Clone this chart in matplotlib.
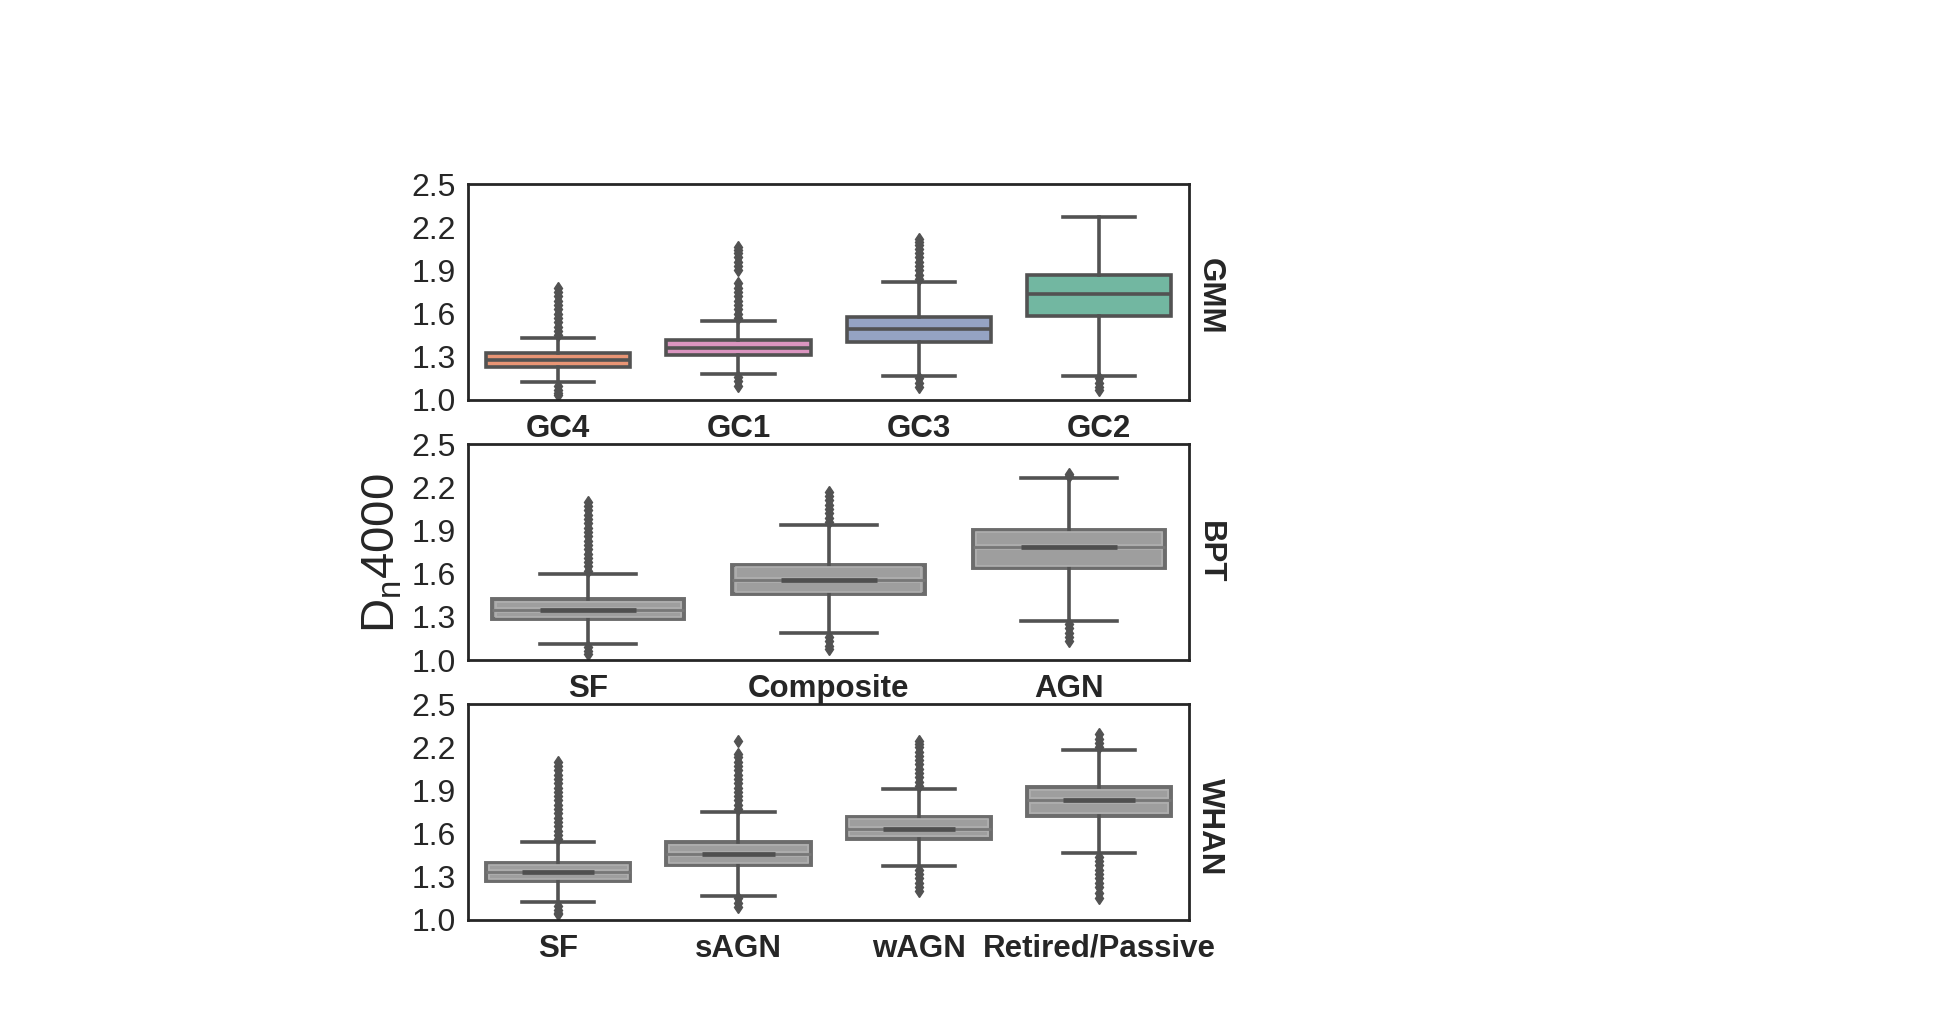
import matplotlib
matplotlib.use("Agg")
import matplotlib.pyplot as plt

plt.rcParams['font.family'] = ['Liberation Sans', 'DejaVu Sans']
plt.rcParams['mathtext.fontset'] = 'custom'
plt.rcParams['mathtext.rm'] = 'Liberation Sans'

# ---------------------------------------------------------------------------
# Values (Dn4000 box statistics per class)
# ---------------------------------------------------------------------------
gmm_labels = ["GC4", "GC1", "GC3", "GC2"]
gmm_med = [1.278, 1.363, 1.493, 1.734]
gmm_q1 = [1.227, 1.310, 1.405, 1.583]
gmm_q3 = [1.324, 1.417, 1.579, 1.868]
gmm_lo = [1.125, 1.178, 1.167, 1.169]
gmm_hi = [1.428, 1.551, 1.819, 2.273]
gmm_fliers = [
    [1.45, 1.48, 1.51, 1.54, 1.57, 1.60, 1.63, 1.66, 1.69, 1.72, 1.75, 1.775,
     1.10, 1.07, 1.05, 1.035],
    [1.57, 1.60, 1.63, 1.66, 1.69, 1.72, 1.75, 1.78, 1.81, 1.90, 1.93, 1.96,
     1.99, 2.02, 2.04, 2.06, 1.16, 1.13, 1.10],
    [1.84, 1.87, 1.90, 1.93, 1.96, 1.99, 2.02, 2.05, 2.08, 2.10, 2.12,
     1.15, 1.12, 1.09],
    [1.15, 1.12, 1.09, 1.07],
]
gmm_colors = ["#e99575", "#db95c0", "#95a3c3", "#72b7a1"]

bpt_labels = ["SF", "Composite", "AGN"]
bpt_med = [1.347, 1.558, 1.787]
bpt_q1 = [1.282, 1.458, 1.639]
bpt_q3 = [1.421, 1.660, 1.903]
bpt_lo = [1.109, 1.185, 1.273]
bpt_hi = [1.597, 1.935, 2.262]
bpt_fliers = [
    [1.62, 1.65, 1.68, 1.71, 1.74, 1.77, 1.80, 1.83, 1.86, 1.89, 1.92, 1.95,
     1.98, 2.01, 2.04, 2.07, 2.10, 1.09, 1.06, 1.04],
    [1.96, 1.99, 2.02, 2.05, 2.08, 2.11, 2.14, 2.17, 1.16, 1.13, 1.10, 1.08],
    [2.28, 2.29, 1.25, 1.22, 1.19, 1.16, 1.13],
]

whan_labels = ["SF", "sAGN", "wAGN", "Retired/Passive"]
whan_med = [1.331, 1.458, 1.632, 1.831]
whan_q1 = [1.271, 1.380, 1.565, 1.725]
whan_q3 = [1.394, 1.539, 1.713, 1.921]
whan_lo = [1.123, 1.169, 1.375, 1.463]
whan_hi = [1.542, 1.750, 1.907, 2.181]
whan_fliers = [
    [1.56, 1.59, 1.62, 1.65, 1.68, 1.71, 1.74, 1.77, 1.80, 1.83, 1.86, 1.89,
     1.92, 1.95, 1.98, 2.01, 2.04, 2.07, 2.10, 1.10, 1.07, 1.05, 1.04],
    [1.77, 1.80, 1.83, 1.86, 1.89, 1.92, 1.95, 1.98, 2.01, 2.04, 2.07, 2.10,
     2.13, 2.15, 2.24, 1.15, 1.12, 1.09],
    [1.93, 1.96, 1.99, 2.02, 2.05, 2.08, 2.11, 2.14, 2.17, 2.20, 2.22, 2.24,
     1.35, 1.32, 1.29, 1.26, 1.23, 1.20],
    [2.20, 2.23, 2.26, 2.29, 1.44, 1.41, 1.38, 1.35, 1.32, 1.29, 1.26, 1.23,
     1.19, 1.15],
]

yticks = [1.0, 1.3, 1.6, 1.9, 2.2, 2.5]

TEXT = "#262626"
EDGE = "#525252"
LW = 2.6


def make_stats(labels, med, q1, q3, lo, hi, fliers):
    return [dict(label=l, med=m, q1=a, q3=b, whislo=w0, whishi=w1, fliers=f)
            for l, m, a, b, w0, w1, f in zip(labels, med, q1, q3, lo, hi, fliers)]


def draw_panel(ax, stats, name, name_y, colors=None):
    pos = list(range(len(stats)))
    grey = colors is None
    box_edge = "#6c6c6c" if grey else EDGE
    res = ax.bxp(stats, positions=pos, widths=0.8, capwidths=0.4,
                 patch_artist=True, showfliers=True,
                 boxprops=dict(edgecolor=box_edge, linewidth=2.8 if grey else LW),
                 whiskerprops=dict(color=EDGE, linewidth=LW),
                 capprops=dict(color=EDGE, linewidth=LW),
                 medianprops=dict(color="#777777" if grey else box_edge,
                                  linewidth=2.0 if grey else LW),
                 flierprops=dict(marker="d", markersize=6, linestyle="none",
                                 markerfacecolor=EDGE, markeredgecolor=EDGE))
    for i, b in enumerate(res["boxes"]):
        b.set_facecolor("#9e9e9e" if grey else colors[i])

    if grey:
        # lighter inner outlines above and below the median
        d = 0.015
        inner = []
        for s in stats:
            inner.append(dict(med=s["q1"] + d, q1=s["q1"] + d, q3=s["med"] - d,
                              whislo=s["q1"] + d, whishi=s["med"] - d, fliers=[]))
            inner.append(dict(med=s["med"] + d, q1=s["med"] + d, q3=s["q3"] - d,
                              whislo=s["med"] + d, whishi=s["q3"] - d, fliers=[]))
        ipos = [p for p in pos for _ in range(2)]
        ax.bxp(inner, positions=ipos, widths=0.77, patch_artist=True,
               showcaps=False, showfliers=False,
               boxprops=dict(facecolor="none", edgecolor="#afafaf", linewidth=1.2),
               whiskerprops=dict(linewidth=0), medianprops=dict(linewidth=0))
        # darker median segment in the middle
        ax.bxp(stats, positions=pos, widths=0.4, showbox=False, showcaps=False,
               showfliers=False, whiskerprops=dict(linewidth=0),
               medianprops=dict(color="#4f4f4f", linewidth=3.4))

    ax.set_xlim(-0.5, len(stats) - 0.5)
    ax.set_ylim(1.0, 2.5)
    ax.set_yticks(yticks)
    ax.set_yticklabels([f"{v:.1f}" for v in yticks])
    ax.set_xticks(pos)
    ax.set_xticklabels([s["label"] for s in stats], fontweight="bold")
    ax.tick_params(axis="y", length=0, pad=9, labelsize=23, labelcolor=TEXT)
    ax.tick_params(axis="x", length=0, pad=10, labelsize=22.5, labelcolor=TEXT)
    for sp in ax.spines.values():
        sp.set_color(TEXT)
        sp.set_linewidth(2.0)
    ax.text(1.008, name_y, name, transform=ax.transAxes, rotation=270,
            va="center", ha="left", fontsize=22.5, fontweight="bold", color=TEXT)


fig = plt.figure(figsize=(19.52, 10.23), dpi=100)
left, width, height = 0.2398, 0.3694, 0.2111
ax1 = fig.add_axes([left, 0.6090, width, height])
ax2 = fig.add_axes([left, 0.3548, width, height])
ax3 = fig.add_axes([left, 0.1007, width, height])

draw_panel(ax1, make_stats(gmm_labels, gmm_med, gmm_q1, gmm_q3, gmm_lo, gmm_hi, gmm_fliers),
           "GMM", 0.478, gmm_colors)
draw_panel(ax2, make_stats(bpt_labels, bpt_med, bpt_q1, bpt_q3, bpt_lo, bpt_hi, bpt_fliers),
           "BPT", 0.5)
draw_panel(ax3, make_stats(whan_labels, whan_med, whan_q1, whan_q3, whan_lo, whan_hi, whan_fliers),
           "WHAN", 0.432)

fig.text(0.196, 0.4594, r"D$_\mathregular{n}$4000", rotation=90, ha="center", va="center",
         fontsize=34, color=TEXT)

fig.savefig("out.png", dpi=100)
